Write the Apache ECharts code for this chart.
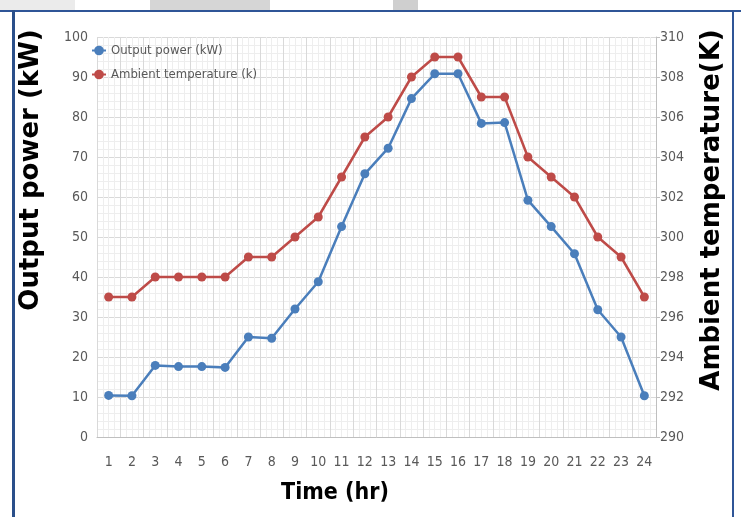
<!DOCTYPE html>
<html>
<head>
<meta charset="utf-8">
<script src="https://cdn.jsdelivr.net/npm/echarts@6/dist/echarts.min.js"></script>
<style>
  html, body { margin: 0; padding: 0; background: #fff; }
  #main { width: 741px; height: 517px; }
</style>
</head>
<body>
<div id="main"></div>
<script>
// hours of the day
var hours = ['1', '2', '3', '4', '5', '6', '7', '8', '9', '10', '11', '12',
  '13', '14', '15', '16', '17', '18', '19', '20', '21', '22', '23', '24']
// output power (kW)
var powerKW = [10.4, 10.3, 17.9, 17.6, 17.6, 17.4, 25, 24.7, 32, 38.8, 52.6, 65.8,
  72.2, 84.6, 90.8, 90.8, 78.4, 78.6, 59.2, 52.6, 45.8, 31.8, 25, 10.3]
// ambient temperature (K)
var tempK = [297, 297, 298, 298, 298, 298, 299, 299, 300, 301, 303, 305,
  306, 308, 309, 309, 307, 307, 304, 303, 302, 300, 299, 297]

var FONT = "'DejaVu Sans Condensed', sans-serif"
var labelColor = '#595959'

var option = {
  backgroundColor: '#fff',
  animation: false,
  grid: { left: 97, right: 85, top: 37, bottom: 80 },
  legend: {
    orient: 'vertical',
    left: 86,
    top: 39,
    itemGap: 11,
    itemWidth: 14,
    itemHeight: 12,
    textStyle: { color: labelColor, fontSize: 13, fontFamily: FONT },
    data: ['Output power (kW)', 'Ambient temperature (k)']
  },
  xAxis: [
    {
      type: 'category',
      data: hours,
      boundaryGap: true,
      axisLine: { lineStyle: { color: '#bfbfbf' } },
      axisTick: { show: false },
      axisLabel: { color: labelColor, fontSize: 14, fontFamily: FONT, margin: 18, interval: 0 },
      splitLine: { show: false }
    },
    {
      // only used for the grid lines between the hours
      type: 'value',
      min: 0,
      max: 24,
      interval: 1,
      position: 'bottom',
      axisLine: { show: false },
      axisTick: { show: false },
      axisLabel: { show: false },
      splitLine: { show: true, lineStyle: { color: '#d9d9d9' } },
      minorTick: { show: false, splitNumber: 4 },
      minorSplitLine: { show: true, lineStyle: { color: '#eeeeee' } }
    }
  ],
  yAxis: [
    {
      type: 'value',
      min: 0,
      max: 100,
      interval: 10,
      axisLine: { show: false },
      axisTick: { show: false },
      axisLabel: { color: labelColor, fontSize: 14, fontFamily: FONT, margin: 9 },
      splitLine: { show: true, lineStyle: { color: '#d9d9d9' } },
      minorTick: { show: false, splitNumber: 5 },
      minorSplitLine: { show: true, lineStyle: { color: '#eeeeee' } }
    },
    {
      type: 'value',
      min: 290,
      max: 310,
      interval: 2,
      position: 'right',
      axisLine: { show: true, lineStyle: { color: '#bfbfbf' } },
      axisTick: { show: true, length: 4, lineStyle: { color: '#bfbfbf' } },
      axisLabel: { color: labelColor, fontSize: 14, fontFamily: FONT, margin: 4 },
      splitLine: { show: false }
    }
  ],
  series: [
    {
      name: 'Output power (kW)',
      type: 'line',
      xAxisIndex: 0,
      yAxisIndex: 0,
      data: powerKW,
      symbol: 'circle',
      symbolSize: 9,
      lineStyle: { color: '#4a7ebb', width: 2.5 },
      itemStyle: { color: '#4a7ebb' },
      z: 3
    },
    {
      name: 'Ambient temperature (k)',
      type: 'line',
      xAxisIndex: 0,
      yAxisIndex: 1,
      data: tempK,
      symbol: 'circle',
      symbolSize: 9,
      lineStyle: { color: '#be4b48', width: 2.5 },
      itemStyle: { color: '#be4b48' },
      z: 2
    }
  ],
  graphic: [
    // grey shapes showing above the frame
    { type: 'rect', shape: { x: 0, y: 0, width: 75, height: 10 }, style: { fill: '#ebebeb' }, z: -1 },
    { type: 'rect', shape: { x: 150, y: 0, width: 120, height: 10 }, style: { fill: '#d6d6d6' }, z: -1 },
    { type: 'rect', shape: { x: 393, y: 0, width: 25, height: 10 }, style: { fill: '#cfcfcf' }, z: -1 },
    // blue frame
    { type: 'rect', shape: { x: 0, y: 10, width: 741, height: 2 }, style: { fill: '#2f5597' } },
    { type: 'rect', shape: { x: 12, y: 10, width: 3, height: 507 }, style: { fill: '#2a4f8a' } },
    { type: 'rect', shape: { x: 732, y: 10, width: 2, height: 507 }, style: { fill: '#2f5597' } },
    // axis titles
    {
      type: 'text',
      x: 31,
      y: 170,
      rotation: Math.PI / 2,
      style: {
        text: 'Output power (kW)',
        font: "bold 26px 'DejaVu Sans', sans-serif",
        fill: '#000',
        align: 'center',
        verticalAlign: 'middle'
      }
    },
    {
      type: 'text',
      x: 712,
      y: 210,
      rotation: Math.PI / 2,
      style: {
        text: 'Ambient temperature(K)',
        font: "bold 26px 'DejaVu Sans', sans-serif",
        fill: '#000',
        align: 'center',
        verticalAlign: 'middle'
      }
    },
    {
      type: 'text',
      x: 335,
      y: 493,
      style: {
        text: 'Time (hr)',
        font: "bold 23px 'DejaVu Sans Condensed', sans-serif",
        fill: '#000',
        align: 'center',
        verticalAlign: 'middle'
      }
    }
  ]
}

var chart = echarts.init(document.getElementById('main'))
chart.setOption(option)
</script>
</body>
</html>
